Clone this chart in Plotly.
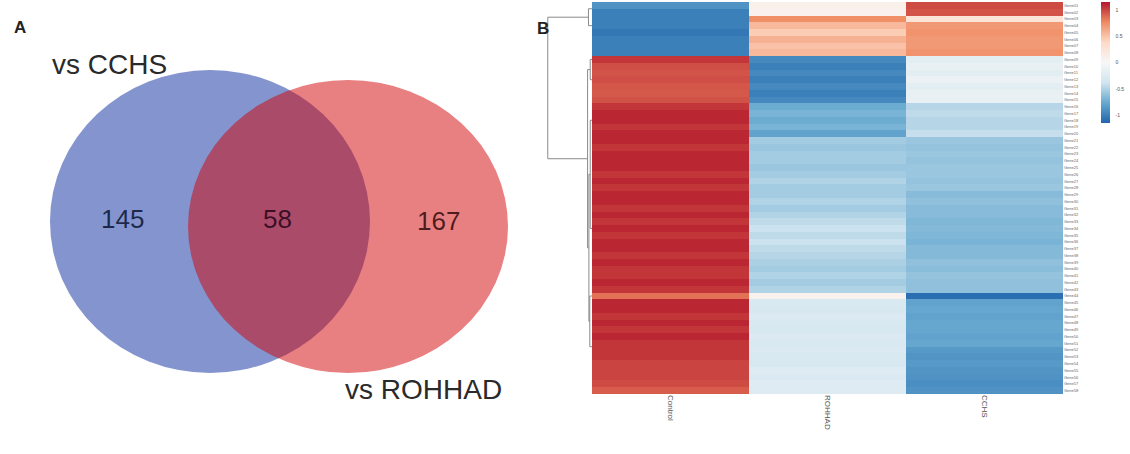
import plotly.graph_objects as go

# ---------------- data ----------------
venn_labels = ["vs CCHS", "vs ROHHAD"]
venn_only_cchs = 145
venn_both = 58
venn_only_rohhad = 167

conditions = ["Control", "ROHHAD", "CCHS"]
# row labels are illegible in the reference; placeholders
genes = [f"Gene{i + 1:02d}" for i in range(58)]

control = [
    -0.9, -1.0, -1.0, -1.0, -1.05, -1.0, -1.0, -1.0,
    1.05, 0.97, 0.95, 0.97, 0.94, 0.93, 0.96,
    1.05, 1.1, 1.1, 1.05, 1.1, 1.1, 1.05, 1.1, 1.1, 1.1, 1.05, 1.1, 1.05, 1.1,
    1.1, 1.05, 1.1, 1.05, 1.1, 1.05, 1.1, 1.1, 1.05, 1.1, 1.05, 1.05, 1.1, 1.05,
    0.85,
    1.1, 1.1, 1.05, 1.1, 1.05, 1.1, 1.05, 1.05, 1.05, 1.0, 1.0, 1.0, 0.98, 0.92,
]
rohhad = [
    0.1, 0.08, 0.75, 0.55, 0.45, 0.58, 0.5, 0.55,
    -0.95, -1.0, -0.95, -1.0, -0.95, -1.0, -0.95,
    -0.75, -0.7, -0.75, -0.7, -0.8,
    -0.55, -0.58, -0.55, -0.55, -0.58, -0.55, -0.5, -0.55, -0.55, -0.5, -0.55, -0.5,
    -0.45, -0.4, -0.45, -0.4, -0.45, -0.48,
    -0.52, -0.55, -0.5, -0.55, -0.5,
    0.08,
    -0.3, -0.32, -0.28, -0.3, -0.32, -0.28, -0.3, -0.28, -0.3, -0.32, -0.25, -0.28, -0.25, -0.25,
]
cchs = [
    0.98, 0.95, 0.25, 0.7, 0.72, 0.7, 0.7, 0.72,
    -0.2, -0.15, -0.2, -0.12, -0.2, -0.15, -0.15,
    -0.48, -0.45, -0.48, -0.48, -0.42,
    -0.58, -0.6, -0.58, -0.6, -0.58, -0.58, -0.6, -0.58, -0.65, -0.62, -0.65, -0.65,
    -0.68, -0.66, -0.68, -0.7, -0.66, -0.66,
    -0.62, -0.64, -0.6, -0.62, -0.62,
    -1.1,
    -0.8, -0.78, -0.8, -0.78, -0.78, -0.8, -0.78, -0.85, -0.88, -0.85, -0.88, -0.9, -0.92, -0.9,
]
colorbar_ticks = [-1, -0.5, 0, 0.5, 1]
colorbar_ticktext = ["-1", "-0.5", "0", "0.5", "1"]

# dendrogram merges: (child1 row pos, child1 height, child2 row pos, child2 height, merge height)
dendro_links = [
    (0.5, 0.0, 3.0, 0.0, 0.08),      # top cluster
    (8.0, 0.0, 11.0, 0.0, 0.04),     # cluster rows 8-14
    (17.0, 0.0, 33.0, 0.0, 0.04),    # cluster rows 15-42
    (43.0, 0.0, 50.5, 0.0, 0.05),    # cluster rows 43-57
    (25.0, 0.04, 46.75, 0.05, 0.07),
    (9.5, 0.04, 35.875, 0.07, 0.1),
    (1.75, 0.08, 22.6875, 0.1, 1.0),  # root
]

# ---------------- figure ----------------
W, H = 1130, 454
fig = go.Figure()

z = [[control[i], rohhad[i], cchs[i]] for i in range(len(genes))]
colorscale = [
    [0.0, "#2166AC"], [1 / 6, "#67A9CF"], [2 / 6, "#D1E5F0"], [0.5, "#F7F7F7"],
    [4 / 6, "#FDDBC7"], [5 / 6, "#EF8A62"], [1.0, "#B2182B"],
]
fig.add_trace(go.Heatmap(
    z=z, x=conditions, y=list(range(len(genes))),
    xaxis="x2", yaxis="y2",
    colorscale=colorscale, zmin=-1.15, zmax=1.15,
    hoverinfo="skip",
    colorbar=dict(
        x=1101 / W, xanchor="left", xpad=0, ypad=0,
        y=1 - 2 / H, yanchor="top",
        len=121, lenmode="pixels", thickness=9,
        tickvals=colorbar_ticks, ticktext=colorbar_ticktext,
        tickfont=dict(size=5, color="#555", family="Liberation Sans"),
        ticks="outside", ticklen=5, tickcolor="rgba(0,0,0,0)", outlinewidth=0,
    ),
))

dx, dy = [], []
for y1, h1, y2, h2, hm in dendro_links:
    dx += [h1, hm, hm, h2, None]
    dy += [y1, y1, y2, y2, None]
fig.add_trace(go.Scatter(
    x=dx, y=dy, xaxis="x3", yaxis="y2", mode="lines",
    line=dict(color="#8a8a8a", width=1), hoverinfo="skip", showlegend=False,
))

# Venn (layout geometry in pixel-like units)
blue_circle = dict(x0=50, x1=370, y0=70, y1=373)
red_circle = dict(x0=188, x1=508, y0=80, y1=373)
shapes = [
    dict(type="circle", xref="x", yref="y", **blue_circle,
         fillcolor="rgb(10,42,158)", opacity=0.5, line=dict(width=0), layer="above"),
    dict(type="circle", xref="x", yref="y", **red_circle,
         fillcolor="rgb(210,2,6)", opacity=0.5, line=dict(width=0), layer="above"),
]
fig.add_trace(go.Scatter(x=[0], y=[0], xaxis="x", yaxis="y", mode="markers",
                         marker=dict(opacity=0), hoverinfo="skip", showlegend=False))

font = "Liberation Sans"
annotations = [
    dict(x=109, y=64, xref="x", yref="y", text=venn_labels[0], showarrow=False,
         font=dict(family=font, size=28, color="#2a2a2a")),
    dict(x=423, y=389, xref="x", yref="y", text=venn_labels[1], showarrow=False,
         font=dict(family=font, size=28, color="#2a2a2a")),
    dict(x=122, y=219, xref="x", yref="y", text=str(venn_only_cchs), showarrow=False,
         font=dict(family=font, size=26, color="rgba(10,20,50,0.85)")),
    dict(x=277, y=219, xref="x", yref="y", text=str(venn_both), showarrow=False,
         font=dict(family=font, size=26, color="rgba(40,5,25,0.85)")),
    dict(x=438, y=221, xref="x", yref="y", text=str(venn_only_rohhad), showarrow=False,
         font=dict(family=font, size=26, color="rgba(50,10,10,0.85)")),
    dict(x=20, y=27, xref="x", yref="y", text="<b>A</b>", showarrow=False,
         font=dict(family=font, size=17, color="#222")),
    dict(x=543 / W, y=1 - 17 / H, xref="paper", yref="paper", text="<b>B</b>", showarrow=False,
         font=dict(family=font, size=17, color="#222")),
]

fig.update_layout(
    width=W, height=H, margin=dict(l=0, r=0, t=0, b=0),
    paper_bgcolor="white", plot_bgcolor="white",
    showlegend=False, shapes=shapes, annotations=annotations,
    xaxis=dict(domain=[0, 530 / W], range=[0, 530], visible=False, fixedrange=True),
    yaxis=dict(domain=[0, 1], range=[H, 0], visible=False, fixedrange=True),
    xaxis2=dict(domain=[592 / W, 1063 / W], anchor="y2", side="bottom",
                tickangle=90, tickfont=dict(size=8, color="#555", family=font),
                ticks="", showgrid=False, zeroline=False, showline=False),
    yaxis2=dict(domain=[1 - 394 / H, 1 - 2 / H], anchor="x2", side="right",
                range=[len(genes) - 0.5, -0.5],
                tickvals=list(range(len(genes))), ticktext=genes,
                tickfont=dict(size=4, color="#666", family=font),
                ticks="", showgrid=False, zeroline=False, showline=False),
    xaxis3=dict(domain=[546 / W, 592 / W], anchor="y2", range=[1.04, 0],
                visible=False),
)

fig.write_html("out.html")
